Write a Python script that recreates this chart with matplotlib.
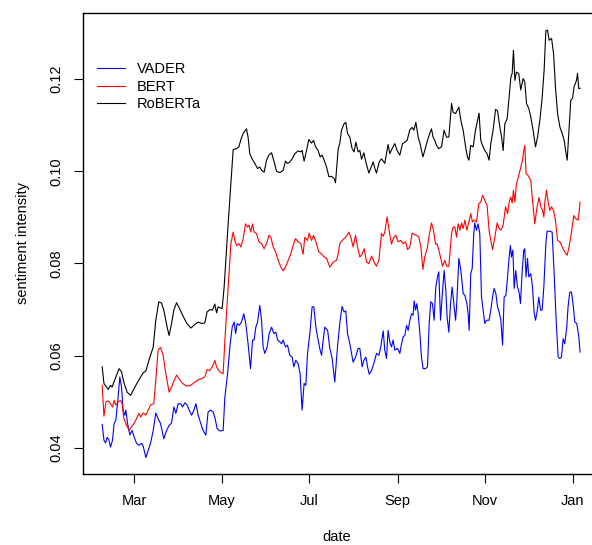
import matplotlib
matplotlib.use('Agg')
import matplotlib.pyplot as plt
import numpy as np
import pandas as pd

plt.rcParams['font.family'] = ['Liberation Sans', 'DejaVu Sans']

# days counted from 2020-03-01
vader_day = [-22.3, -21.1, -20.0, -18.8, -17.7, -16.5, -15.1, -14.0, -12.8, -11.6,
             -10.0, -8.8, -7.7, -6.5, -5.8, -4.6, -3.0, -1.4, 0.0, 1.7,
             3.3, 5.2, 6.3, 8.2, 9.8, 11.4, 13.3, 15.1, 16.7, 18.4,
             20.7, 22.6, 24.4, 26.1, 27.7, 29.1, 30.7, 32.4, 33.8, 35.4,
             37.0, 38.4, 40.1, 41.7, 43.1, 44.7, 46.5, 48.1, 50.0, 51.6,
             53.3, 55.1, 56.5, 57.9, 59.8, 62.1, 63.3, 65.2, 66.8, 68.4,
             69.8, 70.8, 71.9, 73.3, 74.9, 76.5, 77.9, 79.5, 81.2, 82.6,
             83.7, 84.9, 86.1, 87.7, 88.9, 90.0, 91.2, 92.8, 94.2, 95.9,
             97.5, 98.9, 100.1, 101.7, 102.9, 104.0, 105.6, 107.0, 108.6, 110.3,
             111.4, 112.8, 114.4, 115.8, 117.2, 118.6, 119.8, 121.0, 122.6, 124.2,
             125.4, 126.8, 128.4, 129.8, 130.8, 131.9, 133.1, 135.0, 136.6, 138.2,
             140.0, 141.9, 143.5, 145.1, 146.5, 147.7, 148.9, 150.5, 151.7, 152.8,
             154.5, 156.3, 157.5, 159.1, 160.3, 161.7, 162.9, 164.0, 165.7, 167.5,
             169.1, 170.8, 172.1, 173.8, 174.9, 176.1, 177.2, 178.4, 179.6, 180.7,
             181.9, 183.8, 185.4, 186.6, 187.7, 188.9, 190.1, 191.2, 192.4, 193.6,
             194.7, 195.4, 196.4, 197.3, 198.2, 199.4, 200.5, 201.7, 203.3, 204.7,
             205.9, 207.0, 208.2, 209.3, 210.5, 211.7, 212.6, 213.8, 214.9, 216.3,
             217.5, 218.4, 219.6, 220.8, 221.9, 223.1, 224.3, 225.0, 226.6, 228.0,
             229.6, 230.8, 232.2, 233.1, 233.8, 234.9, 235.9, 237.0, 237.7, 238.9,
             240.0, 241.2, 242.4, 243.5, 244.7, 245.9, 247.7, 248.9, 250.1, 251.2,
             252.4, 253.6, 254.7, 255.9, 257.1, 258.2, 259.4, 260.6, 261.7, 262.6,
             263.3, 264.3, 265.2, 266.3, 267.5, 268.6, 269.6, 270.7, 271.9, 272.6,
             273.5, 274.5, 275.4, 276.8, 278.0, 279.1, 280.1, 281.2, 282.4, 283.6,
             284.7, 285.9, 287.3, 288.2, 290.1, 291.7, 293.1, 294.5, 295.9, 297.1,
             298.2, 299.4, 300.5, 301.9, 302.8, 304.0, 305.2, 306.3, 307.5, 308.9,
             310.3, 311.2]
vader = [0.0451, 0.0417, 0.0411, 0.0423, 0.0418, 0.0402, 0.0417, 0.0453, 0.0460, 0.0496,
         0.0554, 0.0532, 0.0482, 0.0471, 0.0482, 0.0453, 0.0428, 0.0438, 0.0424, 0.0410,
         0.0406, 0.0410, 0.0404, 0.0379, 0.0395, 0.0410, 0.0438, 0.0476, 0.0464, 0.0453,
         0.0420, 0.0438, 0.0449, 0.0454, 0.0489, 0.0475, 0.0496, 0.0496, 0.0489, 0.0498,
         0.0493, 0.0482, 0.0471, 0.0482, 0.0496, 0.0471, 0.0453, 0.0438, 0.0428, 0.0478,
         0.0482, 0.0478, 0.0464, 0.0442, 0.0437, 0.0438, 0.0510, 0.0561, 0.0619, 0.0662,
         0.0673, 0.0648, 0.0670, 0.0666, 0.0673, 0.0691, 0.0670, 0.0626, 0.0572, 0.0634,
         0.0634, 0.0662, 0.0673, 0.0709, 0.0677, 0.0619, 0.0605, 0.0619, 0.0648, 0.0662,
         0.0648, 0.0651, 0.0634, 0.0630, 0.0626, 0.0634, 0.0619, 0.0623, 0.0601, 0.0597,
         0.0576, 0.0590, 0.0583, 0.0561, 0.0482, 0.0540, 0.0536, 0.0605, 0.0648, 0.0706,
         0.0706, 0.0662, 0.0634, 0.0612, 0.0601, 0.0634, 0.0662, 0.0655, 0.0615, 0.0594,
         0.0543, 0.0619, 0.0670, 0.0707, 0.0695, 0.0697, 0.0648, 0.0626, 0.0605, 0.0586,
         0.0597, 0.0616, 0.0616, 0.0576, 0.0590, 0.0597, 0.0576, 0.0560, 0.0568, 0.0586,
         0.0605, 0.0601, 0.0619, 0.0654, 0.0612, 0.0594, 0.0655, 0.0630, 0.0619, 0.0634,
         0.0612, 0.0616, 0.0605, 0.0626, 0.0641, 0.0644, 0.0666, 0.0655, 0.0677, 0.0691,
         0.0688, 0.0719, 0.0699, 0.0713, 0.0691, 0.0648, 0.0597, 0.0572, 0.0572, 0.0576,
         0.0670, 0.0717, 0.0713, 0.0677, 0.0749, 0.0771, 0.0782, 0.0677, 0.0727, 0.0785,
         0.0742, 0.0684, 0.0651, 0.0713, 0.0749, 0.0713, 0.0677, 0.0706, 0.0811, 0.0785,
         0.0735, 0.0731, 0.0713, 0.0691, 0.0655, 0.0778, 0.0789, 0.0865, 0.0888, 0.0872,
         0.0886, 0.0865, 0.0727, 0.0699, 0.0670, 0.0677, 0.0677, 0.0699, 0.0727, 0.0746,
         0.0735, 0.0706, 0.0695, 0.0677, 0.0623, 0.0727, 0.0731, 0.0771, 0.0814, 0.0839,
         0.0814, 0.0829, 0.0746, 0.0785, 0.0749, 0.0738, 0.0713, 0.0778, 0.0829, 0.0832,
         0.0771, 0.0811, 0.0771, 0.0778, 0.0749, 0.0695, 0.0677, 0.0695, 0.0727, 0.0699,
         0.0699, 0.0749, 0.0843, 0.0870, 0.0870, 0.0868, 0.0778, 0.0677, 0.0597, 0.0594,
         0.0597, 0.0637, 0.0626, 0.0662, 0.0706, 0.0738, 0.0738, 0.0713, 0.0673, 0.0670,
         0.0641, 0.0608]

bert_day = [-22.3, -21.1, -19.7, -18.1, -16.5, -15.1, -14.0, -12.8, -11.2, -9.5,
            -8.4, -7.2, -5.3, -3.5, -1.8, -0.2, 1.7, 3.3, 4.5, 6.3,
            8.0, 9.8, 11.4, 13.7, 15.1, 16.7, 18.4, 20.2, 22.1, 24.4,
            26.1, 28.4, 29.6, 31.4, 33.8, 36.6, 39.6, 42.4, 44.7, 47.0,
            49.3, 50.9, 52.8, 54.7, 56.3, 57.5, 59.8, 62.1, 63.3, 65.6,
            67.5, 69.1, 70.3, 71.5, 73.1, 74.5, 76.1, 77.7, 79.1, 80.2,
            81.4, 82.6, 83.7, 85.4, 87.0, 88.9, 90.7, 92.4, 94.0, 95.4,
            97.0, 98.7, 100.5, 102.4, 104.0, 105.6, 107.5, 109.3, 110.9, 112.6,
            114.4, 116.3, 117.9, 119.1, 121.0, 122.1, 123.8, 125.2, 126.8, 128.9,
            130.8, 132.6, 134.3, 136.6, 138.9, 141.2, 142.4, 143.5, 145.8, 148.2,
            149.8, 151.2, 152.8, 154.5, 155.9, 157.5, 159.1, 160.5, 162.2, 163.8,
            165.7, 167.5, 169.1, 170.8, 172.6, 173.8, 174.9, 176.5, 177.9, 179.6,
            181.2, 182.6, 184.2, 185.9, 187.7, 189.4, 190.8, 192.4, 194.0, 195.4,
            197.1, 198.7, 200.1, 201.5, 202.8, 204.5, 205.9, 207.5, 208.9, 210.3,
            211.4, 212.6, 214.0, 215.2, 216.8, 218.2, 219.6, 221.5, 222.6, 223.8,
            225.0, 226.1, 227.3, 228.5, 229.6, 230.8, 232.2, 233.6, 234.9, 236.1,
            237.3, 238.9, 240.5, 241.9, 243.1, 244.7, 246.3, 247.7, 248.9, 250.1,
            251.7, 253.3, 254.7, 255.9, 257.5, 259.2, 260.6, 261.7, 262.9, 263.8,
            264.7, 265.7, 266.8, 268.4, 269.8, 271.0, 271.9, 272.6, 273.5, 274.9,
            276.8, 278.0, 279.6, 281.2, 282.6, 283.8, 285.0, 285.9, 286.6, 287.8,
            288.9, 290.1, 291.3, 292.7, 294.0, 295.5, 297.1, 298.7, 300.5, 302.2,
            303.5, 305.2, 306.8, 308.2, 309.8, 310.5, 311.2]
bert = [0.0536, 0.0469, 0.0500, 0.0502, 0.0496, 0.0489, 0.0503, 0.0493, 0.0500, 0.0503,
        0.0496, 0.0464, 0.0449, 0.0438, 0.0446, 0.0453, 0.0464, 0.0475, 0.0467, 0.0476,
        0.0471, 0.0482, 0.0493, 0.0496, 0.0547, 0.0612, 0.0618, 0.0601, 0.0561, 0.0521,
        0.0532, 0.0550, 0.0558, 0.0550, 0.0540, 0.0534, 0.0536, 0.0543, 0.0548, 0.0550,
        0.0554, 0.0570, 0.0568, 0.0577, 0.0590, 0.0576, 0.0565, 0.0561, 0.0633, 0.0749,
        0.0843, 0.0868, 0.0850, 0.0839, 0.0843, 0.0836, 0.0854, 0.0886, 0.0879, 0.0883,
        0.0868, 0.0886, 0.0868, 0.0865, 0.0847, 0.0843, 0.0832, 0.0843, 0.0861, 0.0857,
        0.0836, 0.0825, 0.0807, 0.0792, 0.0784, 0.0792, 0.0807, 0.0821, 0.0839, 0.0854,
        0.0847, 0.0843, 0.0820, 0.0857, 0.0850, 0.0866, 0.0850, 0.0861, 0.0847, 0.0825,
        0.0821, 0.0814, 0.0811, 0.0792, 0.0803, 0.0807, 0.0821, 0.0843, 0.0852, 0.0859,
        0.0868, 0.0857, 0.0836, 0.0861, 0.0836, 0.0814, 0.0821, 0.0832, 0.0803, 0.0800,
        0.0816, 0.0803, 0.0794, 0.0807, 0.0865, 0.0859, 0.0868, 0.0901, 0.0872, 0.0842,
        0.0857, 0.0861, 0.0847, 0.0850, 0.0843, 0.0847, 0.0830, 0.0836, 0.0866, 0.0863,
        0.0861, 0.0857, 0.0836, 0.0787, 0.0814, 0.0832, 0.0861, 0.0888, 0.0872, 0.0842,
        0.0843, 0.0829, 0.0811, 0.0794, 0.0807, 0.0794, 0.0794, 0.0865, 0.0879, 0.0879,
        0.0857, 0.0886, 0.0872, 0.0888, 0.0876, 0.0894, 0.0872, 0.0890, 0.0908, 0.0890,
        0.0894, 0.0890, 0.0930, 0.0933, 0.0948, 0.0937, 0.0926, 0.0872, 0.0850, 0.0830,
        0.0857, 0.0888, 0.0876, 0.0872, 0.0883, 0.0923, 0.0908, 0.0933, 0.0944, 0.0931,
        0.0959, 0.0933, 0.0973, 0.0991, 0.1009, 0.1024, 0.1045, 0.1056, 0.0995, 0.0991,
        0.0980, 0.0937, 0.0886, 0.0923, 0.0943, 0.0923, 0.0915, 0.0901, 0.0933, 0.0959,
        0.0933, 0.0915, 0.0923, 0.0915, 0.0894, 0.0850, 0.0847, 0.0836, 0.0825, 0.0818,
        0.0836, 0.0868, 0.0904, 0.0897, 0.0894, 0.0912, 0.0933]

roberta_day = [-22.3, -21.1, -18.1, -16.5, -15.4, -13.5, -10.5, -8.8, -7.0, -4.9,
               -2.5, -0.7, 2.8, 6.3, 8.2, 10.3, 13.3, 15.1, 17.2, 19.1,
               20.7, 23.0, 24.4, 26.1, 27.7, 29.6, 31.4, 33.8, 36.6, 39.6,
               42.4, 44.7, 47.0, 49.3, 50.9, 52.8, 54.7, 56.3, 57.5, 58.6,
               61.4, 62.8, 65.6, 68.0, 69.1, 71.5, 73.1, 74.5, 76.1, 77.2,
               78.4, 79.5, 80.7, 82.3, 84.2, 86.1, 87.7, 88.9, 90.7, 92.4,
               94.0, 95.9, 97.7, 99.4, 101.7, 104.0, 105.6, 107.0, 108.6, 110.3,
               112.1, 114.4, 116.3, 117.2, 118.6, 120.3, 121.9, 123.8, 125.2, 126.6,
               128.4, 129.8, 131.2, 132.6, 134.3, 135.9, 137.7, 139.6, 140.5, 142.4,
               143.5, 144.7, 146.5, 147.7, 148.9, 150.5, 152.1, 153.5, 154.7, 156.3,
               157.5, 158.7, 160.3, 161.7, 163.8, 165.7, 166.8, 168.0, 169.1, 171.0,
               172.6, 174.9, 177.2, 178.4, 180.0, 181.9, 183.5, 185.4, 187.3, 188.9,
               190.5, 192.4, 194.0, 195.2, 196.6, 198.2, 199.8, 201.5, 202.8, 204.7,
               206.3, 207.5, 208.6, 209.8, 211.0, 212.6, 214.5, 216.3, 218.0, 219.6,
               221.5, 222.6, 224.3, 226.6, 228.0, 229.6, 231.3, 232.6, 233.6, 234.9,
               236.6, 238.2, 239.6, 240.7, 241.9, 243.1, 244.7, 246.3, 247.7, 248.9,
               250.5, 252.2, 253.6, 255.2, 256.4, 257.5, 258.7, 260.3, 261.7, 262.9,
               263.8, 264.7, 265.7, 266.8, 268.4, 269.8, 271.4, 272.6, 273.8, 275.4,
               276.8, 278.4, 280.1, 281.5, 283.1, 284.7, 286.1, 287.3, 288.5, 289.6,
               291.3, 292.7, 294.0, 295.5, 297.1, 298.7, 300.1, 301.2, 302.2, 303.3,
               304.7, 305.9, 307.0, 308.7, 309.4, 310.3, 311.2]
roberta = [0.0576, 0.0540, 0.0527, 0.0536, 0.0532, 0.0548, 0.0572, 0.0565, 0.0540, 0.0521,
           0.0514, 0.0525, 0.0545, 0.0563, 0.0567, 0.0590, 0.0619, 0.0677, 0.0717, 0.0714,
           0.0699, 0.0662, 0.0644, 0.0670, 0.0699, 0.0715, 0.0704, 0.0688, 0.0671, 0.0660,
           0.0668, 0.0673, 0.0670, 0.0671, 0.0695, 0.0700, 0.0699, 0.0712, 0.0693, 0.0706,
           0.0702, 0.0749, 0.0886, 0.0995, 0.1047, 0.1049, 0.1053, 0.1069, 0.1082, 0.1087,
           0.1092, 0.1074, 0.1038, 0.1027, 0.1017, 0.1006, 0.1009, 0.1002, 0.0998, 0.1024,
           0.1035, 0.1040, 0.1020, 0.1000, 0.0997, 0.1002, 0.1022, 0.1017, 0.1020, 0.1027,
           0.1038, 0.1044, 0.1042, 0.1045, 0.1022, 0.1045, 0.1069, 0.1061, 0.1067, 0.1053,
           0.1045, 0.1031, 0.1035, 0.1024, 0.1009, 0.0988, 0.0989, 0.0984, 0.0975, 0.1049,
           0.1060, 0.1089, 0.1103, 0.1106, 0.1082, 0.1074, 0.1049, 0.1042, 0.1063, 0.1042,
           0.1045, 0.1026, 0.1040, 0.1020, 0.0996, 0.1011, 0.1020, 0.1006, 0.0996, 0.1020,
           0.1027, 0.1017, 0.1058, 0.1038, 0.1049, 0.1060, 0.1045, 0.1035, 0.1060, 0.1063,
           0.1067, 0.1090, 0.1095, 0.1089, 0.1106, 0.1074, 0.1056, 0.1031, 0.1045, 0.1067,
           0.1082, 0.1092, 0.1074, 0.1067, 0.1056, 0.1049, 0.1053, 0.1089, 0.1074, 0.1074,
           0.1147, 0.1128, 0.1125, 0.1139, 0.1110, 0.1089, 0.1053, 0.1031, 0.1024, 0.1056,
           0.1053, 0.1089, 0.1110, 0.1126, 0.1067, 0.1056, 0.1045, 0.1038, 0.1024, 0.1060,
           0.1089, 0.1134, 0.1131, 0.1096, 0.1074, 0.1045, 0.1103, 0.1114, 0.1161, 0.1204,
           0.1212, 0.1262, 0.1197, 0.1215, 0.1212, 0.1176, 0.1201, 0.1194, 0.1147, 0.1136,
           0.1118, 0.1089, 0.1053, 0.1074, 0.1110, 0.1158, 0.1219, 0.1304, 0.1306, 0.1284,
           0.1288, 0.1255, 0.1183, 0.1125, 0.1096, 0.1082, 0.1067, 0.1042, 0.1024, 0.1082,
           0.1154, 0.1158, 0.1183, 0.1197, 0.1212, 0.1179, 0.1180]

tick_dates = ['2020-03-01', '2020-05-01', '2020-07-01', '2020-09-01', '2020-11-01', '2021-01-01']
tick_labels = ['Mar', 'May', 'Jul', 'Sep', 'Nov', 'Jan']
y_ticks = [0.04, 0.06, 0.08, 0.10, 0.12]

start = pd.Timestamp('2020-03-01')


def to_dates(days):
    return (start + pd.to_timedelta(np.array(days), unit='D')).to_pydatetime()


W, H = 592, 545
fig = plt.figure(figsize=(W / 100, H / 100), dpi=100)
ax = fig.add_axes([83 / W, 71 / H, 516 / W, 461 / H])

ax.plot(to_dates(vader_day), vader, color='#0000ff', lw=0.8, label='VADER')
ax.plot(to_dates(bert_day), bert, color='#ff0000', lw=0.8, label='BERT')
ax.plot(to_dates(roberta_day), roberta, color='black', lw=0.8, label='RoBERTa')

ax.set_xlim(to_dates([-35.7, 324.4]))
ax.set_ylim(0.03436, 0.13431)

ax.set_xticks(pd.to_datetime(tick_dates).to_pydatetime())
ax.set_xticklabels(tick_labels)
ax.set_yticks(y_ticks)
ax.set_yticklabels(['%.2f' % v for v in y_ticks], rotation=90, va='center')

fs = 10.5
ax.tick_params(axis='both', direction='out', length=6.5, width=0.8, labelsize=fs, colors='black')
ax.tick_params(axis='x', pad=8)
ax.tick_params(axis='y', pad=7.5)
for s in ax.spines.values():
    s.set_linewidth(1.0)

fig.text(337 / W, 1 - 537 / H, 'date', ha='center', va='center', fontsize=fs)
fig.text(23 / W, 1 - 243 / H, 'sentiment intensity', rotation=90, ha='center', va='center', fontsize=fs)

ax.legend(loc='upper left', bbox_to_anchor=(97 / W, 1 - 62 / H), bbox_transform=fig.transFigure,
          frameon=False, fontsize=fs, handlelength=1.9, handletextpad=0.85,
          labelspacing=0.25, borderpad=0, borderaxespad=0)

fig.savefig('out.png', dpi=100)
